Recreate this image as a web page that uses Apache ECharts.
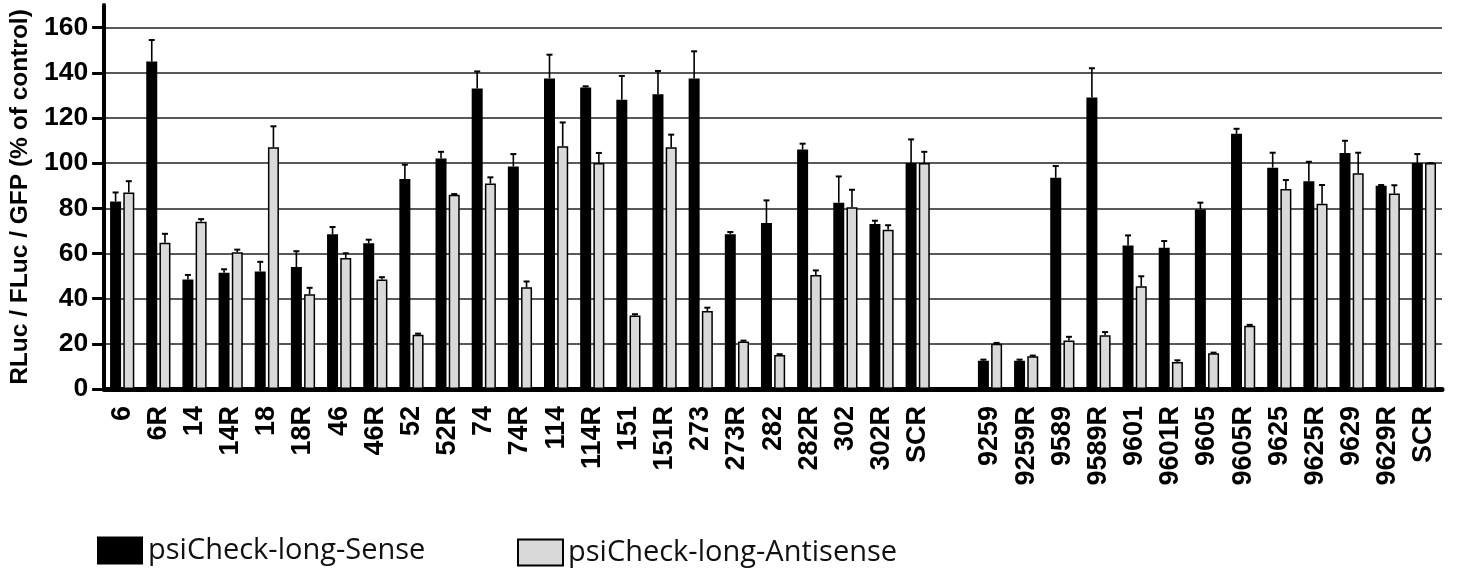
<!DOCTYPE html>
<html>
<head>
<meta charset="utf-8">
<style>
  html, body { margin: 0; padding: 0; background: #fff; }
  #chart { width: 1461px; height: 575px; }
</style>
<script src="https://cdn.jsdelivr.net/npm/echarts@6/dist/echarts.min.js"></script>
</head>
<body>
<div id="chart"></div>
<script>
// Constructs tested; the blank entry separates the two groups.
const categories = ['6', '6R', '14', '14R', '18', '18R', '46', '46R', '52', '52R', '74', '74R',
  '114', '114R', '151', '151R', '273', '273R', '282', '282R', '302', '302R', 'SCR', ' ',
  '9259', '9259R', '9589', '9589R', '9601', '9601R', '9605', '9605R', '9625', '9625R',
  '9629', '9629R', 'SCR'];

// Mean RLuc/FLuc/GFP, % of control
const senseValues = [83, 145, 48.5, 51.5, 52, 54, 68.5, 64.5, 93, 102, 133, 98.5,
  137.5, 133.5, 128, 130.5, 137.5, 68.5, 73.5, 106, 82.5, 73, 100, null,
  12.5, 12.5, 93.5, 129, 63.5, 62.5, 79.5, 113, 98, 92,
  104.5, 90, 100];
const antisenseValues = [87, 64.7, 74, 60.5, 107, 42, 58, 48.5, 24, 86, 91, 45,
  107.5, 100, 32.5, 107, 34.5, 21, 15, 50.5, 80.5, 70.5, 100, null,
  20, 14.5, 21.5, 23.8, 45.5, 12, 15.8, 28, 88.5, 82,
  95.5, 86.5, 100];

// Upper error (SD) for each mean
const senseErrors = [4, 9.5, 2, 1.5, 4.3, 7, 3.2, 1.6, 6.3, 3, 7.6, 5.5,
  10.5, 0.5, 10.6, 10.3, 12, 1, 10, 2.6, 11.6, 1.5, 10.5, null,
  0.5, 0.5, 5.2, 13, 4.5, 3, 3, 2.2, 6.6, 8.6,
  5.4, 0.3, 4];
const antisenseErrors = [5, 4, 1.2, 1.2, 9.3, 2.8, 2.1, 1, 0.5, 0.3, 2.7, 2.6,
  10.5, 4.5, 0.6, 5.6, 1.5, 0.4, 0.4, 2, 7.7, 2, 5, null,
  0.4, 0.3, 1.6, 1.4, 4.4, 0.7, 0.3, 0.4, 4, 8.3,
  9.1, 3.7, 0];

const yTicks = [0, 20, 40, 60, 80, 100, 120, 140, 160];

const SENSE = 'psiCheck-long-Sense';
const ANTISENSE = 'psiCheck-long-Antisense';

const BAR_WIDTH = 11;
const BAR_GAP = 0.2;
const barOffset = BAR_WIDTH * (1 + BAR_GAP) / 2;

const boldFont = '"Liberation Sans", Arial, Helvetica, sans-serif';
const legendText = {
  fontFamily: '"Open Sans", sans-serif', fontSize: 29, color: '#111'
};

function errorPoints(values, errors) {
  const out = [];
  values.forEach(function (v, i) {
    if (v != null) out.push([i, v, errors[i]]);
  });
  return out;
}

// Upper whisker with a short cap, shifted onto its own bar of the pair
function errorRenderer(side) {
  return function (params, api) {
    const i = api.value(0);
    const v = api.value(1);
    const e = api.value(2);
    const base = api.coord([i, v]);
    const top = api.coord([i, v + e]);
    const x = base[0] + side * barOffset;
    return {
      type: 'group',
      children: [
        { type: 'line', shape: { x1: x, y1: base[1], x2: x, y2: top[1] },
          style: { stroke: '#000', lineWidth: 1.6 } },
        { type: 'line', shape: { x1: x - 3, y1: top[1], x2: x + 3, y2: top[1] },
          style: { stroke: '#000', lineWidth: 2 } }
      ]
    };
  };
}

const chart = echarts.init(document.getElementById('chart'), null, { renderer: 'canvas' });

chart.setOption({
  animation: false,
  backgroundColor: '#fff',
  grid: { left: 98, right: 19, top: 5, bottom: 186, containLabel: false },
  legend: [
    {
      data: [SENSE], left: 97, top: 536, padding: 0,
      itemWidth: 46, itemHeight: 28, icon: 'rect',
      textStyle: legendText
    },
    {
      data: [ANTISENSE], left: 517, top: 538, padding: 0,
      itemWidth: 45, itemHeight: 26, icon: 'rect',
      textStyle: legendText
    }
  ],
  xAxis: {
    type: 'category',
    data: categories,
    axisLine: { lineStyle: { color: '#000', width: 5 } },
    axisTick: { alignWithLabel: true, interval: 0, length: 9, lineStyle: { color: '#000', width: 3 } },
    axisLabel: {
      interval: 0, rotate: 90, margin: 17,
      fontFamily: boldFont, fontWeight: 'bold', fontSize: 27, color: '#000'
    },
    splitLine: { show: false }
  },
  yAxis: {
    type: 'value',
    min: 0, max: 170, interval: 20,
    name: 'RLuc / FLuc / GFP (% of control)',
    nameLocation: 'middle',
    nameGap: 66,
    nameTextStyle: { fontFamily: boldFont, fontWeight: 'bold', fontSize: 24.5, color: '#000' },
    axisLine: { show: true, lineStyle: { color: '#000', width: 4 } },
    axisTick: { show: true, length: 12, customValues: yTicks, lineStyle: { color: '#000', width: 3 } },
    axisLabel: {
      customValues: yTicks, margin: 16,
      fontFamily: boldFont, fontWeight: 'bold', fontSize: 26.5, color: '#000'
    },
    splitLine: { show: true, lineStyle: { color: '#222', width: 1.5 } }
  },
  series: [
    {
      name: SENSE, type: 'bar', data: senseValues,
      barWidth: BAR_WIDTH, barGap: (BAR_GAP * 100) + '%',
      itemStyle: { color: '#000' }
    },
    {
      name: ANTISENSE, type: 'bar', data: antisenseValues,
      barWidth: BAR_WIDTH,
      itemStyle: { color: '#d9d9d9', borderColor: '#000', borderWidth: 1.5 }
    },
    {
      name: SENSE + ' SD', type: 'custom', z: 5,
      renderItem: errorRenderer(-1),
      encode: { x: 0, y: 1 },
      data: errorPoints(senseValues, senseErrors)
    },
    {
      name: ANTISENSE + ' SD', type: 'custom', z: 5,
      renderItem: errorRenderer(1),
      encode: { x: 0, y: 1 },
      data: errorPoints(antisenseValues, antisenseErrors)
    }
  ]
});
</script>
</body>
</html>
